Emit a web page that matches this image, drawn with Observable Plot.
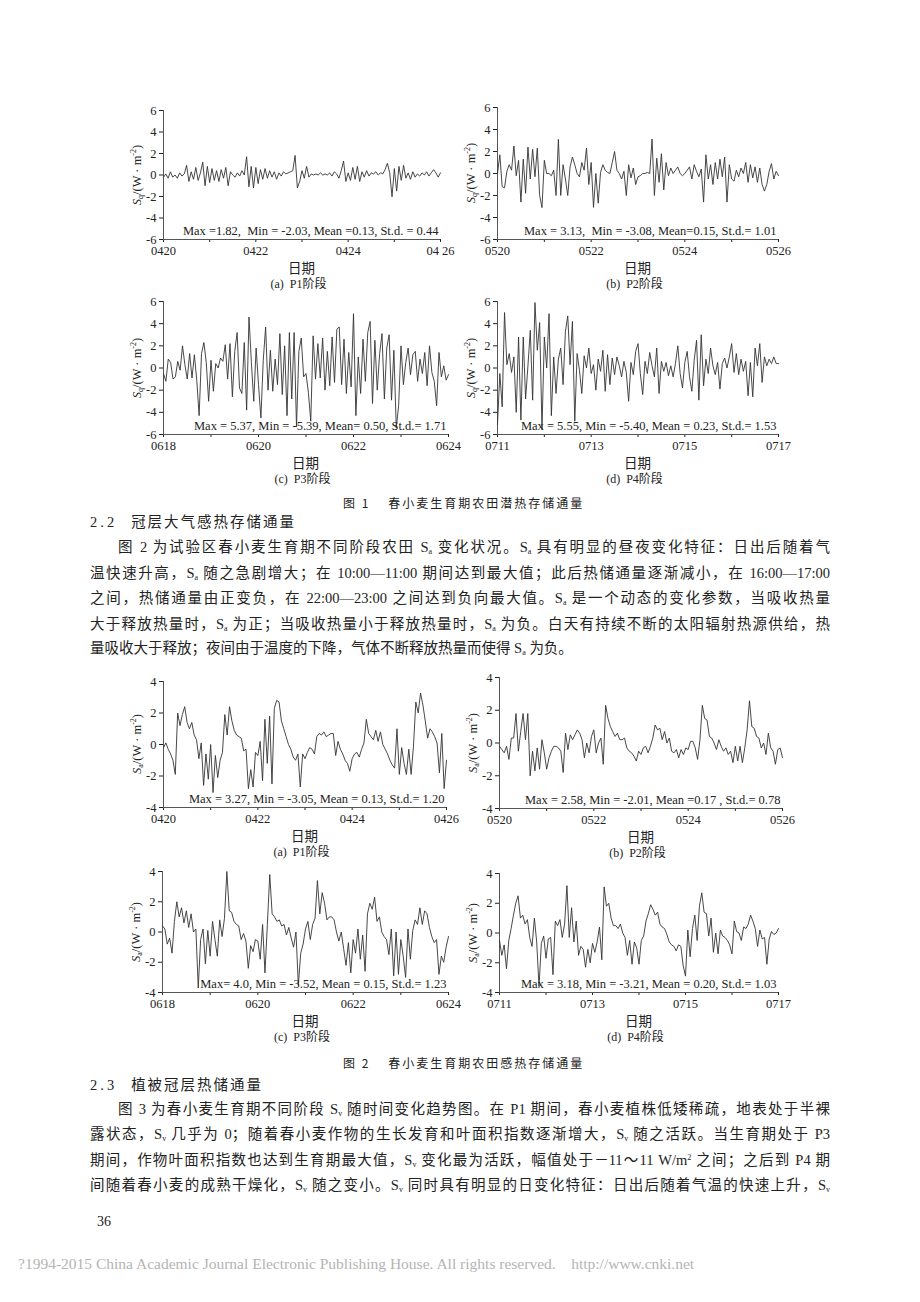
<!DOCTYPE html>
<html><head><meta charset="utf-8">
<script src="https://cdn.jsdelivr.net/npm/d3@7"></script>
<script src="https://cdn.jsdelivr.net/npm/@observablehq/plot@0.6"></script>
<style>
body{margin:0;background:#fff;}
#page{position:relative;width:920px;height:1302px;overflow:hidden;background:#fff;font-family:"Liberation Serif","Noto Sans CJK SC",serif;color:#222;}
.abs{position:absolute;white-space:nowrap;}
.tl{position:absolute;left:90px;width:740px;font-size:14.5px;line-height:20px;height:20px;text-align:justify;text-align-last:justify;font-family:"Liberation Serif","Noto Sans CJK SC",serif;color:#222;overflow:visible;}
.tl.last{text-align-last:left;}
.tl.ind{left:118px;width:712px;}
sub{font-size:8px;vertical-align:-2px;line-height:0;}
sup{font-size:8px;vertical-align:5px;line-height:0;}
.ylab{position:absolute;font-size:12.5px;font-family:"Liberation Serif",serif;white-space:nowrap;transform:translate(-50%,-50%) rotate(-90deg);color:#222;}
.xt{position:absolute;font-size:13.5px;font-family:"Noto Sans CJK SC",sans-serif;transform:translate(-50%,-50%);white-space:nowrap;color:#222;}
.sc{position:absolute;font-size:12px;font-family:"Liberation Serif","Noto Sans CJK SC",serif;transform:translate(-50%,-50%);white-space:pre;color:#222;}
.cap{position:absolute;font-size:12px;letter-spacing:2px;font-family:"Noto Sans CJK SC",sans-serif;white-space:nowrap;color:#222;}
.hd{position:absolute;font-size:14.5px;font-family:"Liberation Serif","Noto Sans CJK SC",serif;white-space:nowrap;color:#222;}
</style>
</head><body><div id="page"></div>
<script>
// ---------------- data ----------------
// Fig.1 latent heat storage flux Sq (W·m-2), 20 samples per day
const sqP1 = [
 -0.2,0.1,-0.3,0.3,-0.2,0.0,-0.3,0.2,-0.1,0.1,0.9,-0.6,0.3,-0.4,0.7,-0.5,0.2,1.2,-1.0,0.8,
 -0.7,0.6,-0.5,0.4,-0.6,0.5,-0.3,0.7,-1.0,0.3,0.0,-0.2,0.2,-0.1,0.4,0.0,1.7,-1.1,0.8,-1.2,
 0.7,-0.8,0.5,-0.4,0.6,-0.3,0.4,-0.2,0.3,-0.4,0.2,-0.1,0.3,0.1,0.2,0.3,0.4,1.82,-1.2,-0.6,
 0.4,-0.3,0.8,-0.2,0.1,0.0,0.1,0.0,0.2,0.0,0.1,0.0,0.2,-0.1,0.3,0.1,-0.3,0.4,1.3,-0.6,
 0.2,-0.5,0.7,-0.4,0.8,-0.6,0.3,-0.2,0.4,-0.1,0.2,0.1,0.3,0.0,0.2,0.1,0.5,1.1,0.2,-2.03,
 0.6,-1.5,0.8,-0.5,0.9,-0.3,0.2,-0.4,0.3,-0.2,0.1,-0.1,0.2,0.0,0.3,-0.1,0.2,0.5,0.2,-0.2,0.2];
const sqP2 = [
 0.0,1.7,-1.2,-1.3,0.2,0.8,0.3,2.5,-0.2,1.2,-2.6,1.3,-1.8,2.4,-0.5,2.2,-0.3,2.3,-2.0,-3.1,
 1.2,0.0,0.0,-0.2,0.3,-2.0,3.1,-2.0,0.8,-0.5,-2.0,0.6,1.5,0.8,0.0,-0.3,1.0,0.3,2.3,-1.0,
 1.0,-3.08,0.0,-2.7,0.1,0.8,0.3,0.1,0.0,1.0,2.0,0.3,0.0,-0.5,0.2,-2.0,0.8,-0.4,0.5,-1.0,
 -0.3,-0.2,0.0,0.0,0.1,0.0,3.13,-2.0,1.4,-0.8,1.8,-1.5,1.0,-0.2,0.5,0.0,0.3,0.6,0.0,-0.2,
 0.0,0.3,0.6,-0.5,0.8,0.2,-0.3,0.4,-2.6,1.7,-0.5,0.8,-1.0,1.0,-0.5,1.3,-0.3,1.5,-2.6,0.8,
 -0.5,-0.7,0.3,-0.3,0.5,0.0,1.0,-0.8,0.8,-0.4,0.6,-0.8,0.5,-1.0,-1.6,-1.0,0.2,0.9,-0.5,0.2,-0.2];
const sqP3 = [
 -0.5,-1.2,0.8,0.5,-1.0,-0.8,0.6,-0.2,2.0,0.3,-1.0,1.3,-0.9,1.2,-1.1,-4.3,1.3,2.3,0.5,-3.0,
 0.7,-2.1,0.4,0.0,0.9,0.6,2.1,-1.0,2.2,-2.6,1.5,3.2,-1.8,-2.3,2.3,-3.8,4.6,0.5,-3.0,1.8,
 -1.5,-4.5,0.7,3.7,-2.0,1.6,-2.1,0.8,-1.5,3.1,-2.4,2.0,-4.3,3.2,-2.8,3.2,-5.3,1.5,2.7,-0.8,
 -0.5,-2.2,-4.8,2.9,-1.0,2.2,-0.9,2.7,-2.0,1.5,-1.6,2.8,-1.3,3.5,3.7,-1.5,2.6,-2.3,1.4,-1.7,
 4.9,-4.3,1.0,-2.3,2.6,-1.2,3.2,4.2,-3.2,2.5,-2.0,1.3,3.1,-2.8,1.8,3.0,-2.9,1.6,-5.4,-3.4,
 2.0,-1.5,0.5,1.8,-0.6,1.2,1.5,-1.2,0.8,-0.5,1.4,-1.6,2.0,-0.4,-1.2,-3.4,1.4,-0.8,0.2,-1.1,-0.6];
const sqP4 = [
 -5.1,-0.5,-3.5,5.0,0.3,1.3,-0.4,1.0,-4.0,2.8,-4.7,2.8,-2.8,0.2,3.4,-2.9,5.9,1.6,4.1,-5.5,
 2.8,0.0,4.9,-4.3,1.0,-2.3,0.8,1.8,-1.5,3.3,4.7,0.3,4.2,-4.8,1.3,-0.2,-2.3,1.1,0.0,1.8,
 -0.5,0.3,-2.0,0.8,-0.3,1.6,-2.1,1.2,-1.5,0.9,-0.6,1.0,0.2,-0.8,0.6,-0.4,-3.0,0.5,-0.6,1.5,
 2.2,-0.5,-2.4,0.6,-0.5,1.4,0.2,-0.8,1.8,-2.3,0.6,-0.3,0.5,-0.7,0.2,-0.8,0.4,2.0,-0.5,-1.8,
 0.5,1.5,-0.8,-2.1,0.7,2.5,-2.9,3.0,-1.6,0.8,-0.5,1.8,0.2,-0.6,0.5,-1.9,0.4,0.9,0.0,1.0,
 2.2,-0.4,1.3,-0.6,0.8,-0.3,0.6,-2.5,0.5,-2.6,1.8,0.2,2.2,-1.3,1.0,0.2,0.8,0.4,1.0,0.4,0.4];
// Fig.2 sensible heat storage flux Sa (W·m-2)
const saP1 = [
 -0.2,0.1,-0.3,-0.6,-1.0,-1.9,2.0,1.2,1.9,2.4,1.4,1.0,1.4,0.6,0.3,-0.9,0.1,-2.6,-0.6,-2.2,
 0.0,-3.05,-0.7,-2.1,-1.0,-0.5,1.9,0.6,2.4,1.5,0.9,0.6,0.5,0.4,-0.4,-0.3,-2.8,-1.6,-2.7,-0.5,
 -0.7,0.2,-2.3,1.6,-1.2,1.8,-2.5,2.3,2.8,2.7,1.5,1.0,0.5,0.0,-0.3,-0.8,-1.0,-0.6,-2.7,-0.6,
 -0.9,-0.5,-0.2,-0.3,-0.6,0.5,0.7,0.6,0.8,0.5,0.6,0.7,0.7,-0.7,0.2,-0.3,-0.6,-1.0,-1.2,-1.7,
 -0.9,-0.6,-0.5,-0.8,-0.3,0.1,1.6,0.7,0.5,0.3,0.9,0.2,0.8,0.0,-0.3,-0.6,-1.0,-1.3,-1.5,1.0,
 -1.9,-0.2,-1.2,-1.9,-0.3,-1.9,-0.1,2.7,2.0,3.27,2.5,1.5,0.4,1.0,0.8,0.5,0.1,-1.8,0.7,-2.8,-1.0];
const saP2 = [
 -0.2,-0.4,-0.6,-0.2,-1.0,0.3,0.3,1.8,-0.5,0.7,1.8,0.2,1.8,-2.0,-0.5,-1.7,-0.3,-1.6,0.2,-0.6,
 -1.6,-0.9,-0.5,-0.2,-0.2,-0.3,-0.5,-1.8,0.6,-0.4,0.5,0.2,0.5,0.8,0.6,0.2,-0.9,0.0,-0.6,0.4,
 0.8,-0.6,0.0,0.3,-1.3,2.3,1.5,1.0,0.7,0.4,0.6,0.2,0.2,0.3,-0.3,-0.5,-0.6,-0.8,-1.1,-0.5,
 -0.7,-0.3,-0.2,-0.6,-0.2,0.3,1.1,0.8,0.9,0.2,0.7,0.0,0.3,-0.5,-0.6,-0.4,-0.9,-0.4,-0.7,-0.3,
 -0.4,0.1,0.1,-0.3,-1.0,0.2,2.3,1.5,1.4,0.4,0.3,0.0,-0.4,0.2,-0.2,-0.5,-0.3,-0.7,-0.5,-1.2,
 -0.2,-1.1,-0.2,-1.2,-0.3,0.8,2.58,1.0,0.9,0.4,0.3,-0.3,0.0,-0.7,0.6,-0.3,-0.5,-1.3,-0.4,-0.3,-0.9];
const saP3 = [
 0.4,0.2,-0.8,-0.4,-1.4,0.7,2.0,1.0,1.6,0.6,1.4,0.3,1.2,0.0,0.2,-3.7,-0.5,0.2,-2.1,0.1,
 -1.6,0.7,-0.5,-1.6,0.8,-0.3,0.9,4.0,1.4,1.3,0.7,0.5,0.4,-0.5,-0.1,-0.6,-2.4,-0.9,-1.3,-0.5,
 -0.6,-1.8,0.5,-2.7,0.5,3.8,1.2,1.0,0.7,0.8,0.4,0.5,-0.2,0.3,-0.4,-1.0,0.0,-3.52,-1.4,-0.8,
 0.2,0.7,-0.5,0.5,0.9,3.4,1.2,2.6,1.9,0.8,1.0,1.0,0.8,0.0,-0.6,0.0,-1.1,-2.2,-0.7,-2.7,
 -0.5,-1.4,0.2,-1.8,-0.2,-2.6,1.2,1.9,1.5,2.3,0.7,1.0,0.0,-0.3,-0.5,-1.5,0.2,-2.9,0.0,-2.8,
 -0.5,-1.6,-3.0,0.2,-1.8,0.1,0.8,0.5,1.6,0.5,1.4,1.2,0.3,-0.3,-0.7,-0.5,-2.8,-1.6,-2.0,-1.0,-0.3];
const saP4 = [
 -0.5,-1.5,-0.8,-2.4,-0.5,0.3,1.2,2.0,2.5,1.0,1.2,0.6,0.9,-0.3,-0.9,1.0,-0.6,-3.6,-0.7,-0.2,
 -1.7,-0.4,-0.3,-2.8,0.8,0.5,0.9,-0.3,0.6,3.18,-0.3,1.7,-0.6,0.8,-1.5,-0.9,-1.1,-2.3,-1.1,-2.0,
 -0.7,-1.3,-0.6,0.4,-1.8,3.1,1.8,2.0,1.0,0.5,0.5,0.3,0.6,0.0,-0.3,-1.5,-0.5,-2.1,-0.6,-1.0,
 -2.1,-0.5,-0.2,0.8,1.3,1.9,1.6,1.2,1.4,0.6,0.4,0.3,-0.1,-0.6,-0.8,-0.9,-1.2,-0.8,-0.9,-2.2,
 -2.9,0.2,-1.6,0.3,1.2,-0.5,1.8,2.7,1.4,1.3,-0.2,1.0,-1.3,0.0,-1.4,0.2,-0.2,-0.3,-0.5,-0.8,
 -1.4,0.8,0.1,0.0,-0.5,0.4,0.3,0.6,1.2,0.8,0.3,-0.9,0.2,-0.4,-0.3,-2.1,-0.4,0.1,-0.1,0.0,0.3];

const dateLabels = [
  ["0420","0422","0424","04 26"],
  ["0520","0522","0524","0526"],
  ["0618","0620","0622","0624"],
  ["0711","0713","0715","0717"]
];
const dateLabels2 = [
  ["0420","0422","0424","0426"],
  ["0520","0522","0524","0526"],
  ["0618","0620","0622","0624"],
  ["0711","0713","0715","0717"]
];
const fig1Ticks = [-6,-4,-2,0,2,4,6];
const fig2Ticks = [-4,-2,0,2,4];
const fig1Stats = [
  "Max =1.82,  Min = -2.03, Mean =0.13, St.d. = 0.44",
  "Max = 3.13,  Min = -3.08, Mean=0.15, St.d.= 1.01",
  "Max = 5.37, Min = -5.39, Mean= 0.50, St.d.= 1.71",
  "Max = 5.55, Min = -5.40, Mean = 0.23, St.d.= 1.53"
];
const fig2Stats = [
  "Max = 3.27, Min = -3.05, Mean = 0.13, St.d.= 1.20",
  "Max = 2.58, Min = -2.01, Mean =0.17 , St.d.= 0.78",
  "Max= 4.0, Min = -3.52, Mean = 0.15, St.d.= 1.23",
  "Max = 3.18, Min = -3.21, Mean = 0.20, St.d.= 1.03"
];
const panelNames = ["(a)  P1阶段","(b)  P2阶段","(c)  P3阶段","(d)  P4阶段"];
const xTitle = "日期";
const figCaptions = ["春小麦生育期农田潜热存储通量","春小麦生育期农田感热存储通量"];

// ---------------- layout ----------------
const page = document.getElementById("page");
function addDiv(cls, html, left, top, extra) {
  const d = document.createElement("div");
  d.className = cls; d.innerHTML = html;
  d.style.left = left + "px"; d.style.top = top + "px";
  if (extra) Object.assign(d.style, extra);
  page.appendChild(d);
  return d;
}

function drawChart(c) {
  const mL = 30, mR = 24, mT = 8, mB = 22;
  const data = c.values.map((v, i) => ({t: i * 6 / (c.values.length - 1), v}));
  const labs = {0: c.dates[0], 2: c.dates[1], 4: c.dates[2], 6: c.dates[3]};
  const yMin = c.yDomain[0];
  const svg = Plot.plot({
    width: (c.x1 - c.x0) + mL + mR,
    height: (c.yB - c.yT) + mT + mB,
    marginLeft: mL, marginRight: mR, marginTop: mT, marginBottom: mB,
    style: {background: "transparent", fontFamily: "Liberation Serif, serif", fontSize: "12.5px", color: "#222", overflow: "visible"},
    x: {domain: [0, 6], ticks: [0,1,2,3,4,5,6], tickFormat: d => labs[d] ?? "", tickSize: 3, tickPadding: 4, label: null},
    y: {domain: c.yDomain, ticks: c.yTicks, tickFormat: d => String(d), tickSize: 4, tickPadding: 3, label: null},
    marks: [
      Plot.ruleX([0], {stroke: "#555", strokeWidth: 1}),
      Plot.ruleY([yMin], {stroke: "#555", strokeWidth: 1}),
      Plot.line(data, {x: "t", y: "v", stroke: "#333", strokeWidth: 0.9}),
      Plot.text([c.stats], {text: d => d, frameAnchor: "bottom-right", textAnchor: "end", lineAnchor: "bottom", dx: -2, dy: -5, fontSize: 12.5, fill: "#222"})
    ]
  });
  svg.style.position = "absolute";
  svg.style.left = (c.x0 - mL) + "px";
  svg.style.top = (c.yT - mT) + "px";
  page.appendChild(svg);
  const cx = (c.x0 + c.x1) / 2;
  addDiv("ylab", `<i>S</i><sub>${c.sub}</sub>/(W · m<sup>-2</sup>)`, c.x0 - 26, (c.yT + c.yB) / 2);
  addDiv("xt", xTitle, cx, c.yB + 28);
  const sc = addDiv("sc", "", cx - 3, c.yB + 44);
  sc.textContent = c.name;
}

const geo1 = [
  {x0:163, x1:440, yT:110, yB:239},
  {x0:497, x1:778, yT:107, yB:239},
  {x0:163, x1:448, yT:301, yB:434},
  {x0:497, x1:778, yT:301, yB:434}
];
const geo2 = [
  {x0:163, x1:446, yT:681, yB:807},
  {x0:499, x1:782, yT:677, yB:808},
  {x0:162, x1:448, yT:871, yB:992},
  {x0:499, x1:778, yT:873, yB:992}
];
[sqP1, sqP2, sqP3, sqP4].forEach((vals, i) => drawChart({
  ...geo1[i], values: vals, dates: dateLabels[i], yDomain: [-6, 6], yTicks: fig1Ticks,
  stats: fig1Stats[i], sub: "q", name: panelNames[i]
}));
[saP1, saP2, saP3, saP4].forEach((vals, i) => drawChart({
  ...geo2[i], values: vals, dates: dateLabels2[i], yDomain: [-4, 4], yTicks: fig2Ticks,
  stats: fig2Stats[i], sub: "a", name: panelNames[i]
}));

// captions
addDiv("cap", `图 1<span style="margin-left:18px">${figCaptions[0]}</span>`, 343, 494);
addDiv("cap", `图 2<span style="margin-left:18px">${figCaptions[1]}</span>`, 343, 1054);

// section 2.2
const Sa = `S<sub>a</sub>`, Sv = `S<sub>v</sub>`;
addDiv("hd", `<span style="letter-spacing:3px">2.2</span><span style="margin-left:14px;letter-spacing:2px">冠层大气感热存储通量</span>`, 90, 510);
const para22 = [
  `图 2 为试验区春小麦生育期不同阶段农田 ${Sa} 变化状况。${Sa} 具有明显的昼夜变化特征：日出后随着气`,
  `温快速升高，${Sa} 随之急剧增大；在 10:00—11:00 期间达到最大值；此后热储通量逐渐减小，在 16:00—17:00`,
  `之间，热储通量由正变负，在 22:00—23:00 之间达到负向最大值。${Sa} 是一个动态的变化参数，当吸收热量`,
  `大于释放热量时，${Sa} 为正；当吸收热量小于释放热量时，${Sa} 为负。白天有持续不断的太阳辐射热源供给，热`,
  `量吸收大于释放；夜间由于温度的下降，气体不断释放热量而使得 ${Sa} 为负。`
];
const tops22 = [537, 563, 588, 614, 638];
para22.forEach((h, i) => {
  const cls = "tl" + (i === 0 ? " ind" : "") + (i === para22.length - 1 ? " last" : "");
  addDiv(cls, h, i === 0 ? 118 : 90, tops22[i]);
});

// section 2.3
addDiv("hd", `<span style="letter-spacing:3px">2.3</span><span style="margin-left:14px;letter-spacing:2px">植被冠层热储通量</span>`, 90, 1073);
const para23 = [
  `图 3 为春小麦生育期不同阶段 ${Sv} 随时间变化趋势图。在 P1 期间，春小麦植株低矮稀疏，地表处于半裸`,
  `露状态，${Sv} 几乎为 0；随着春小麦作物的生长发育和叶面积指数逐渐增大，${Sv} 随之活跃。当生育期处于 P3`,
  `期间，作物叶面积指数也达到生育期最大值，${Sv} 变化最为活跃，幅值处于－11～11 W/m<sup>2</sup> 之间；之后到 P4 期`,
  `间随着春小麦的成熟干燥化，${Sv} 随之变小。${Sv} 同时具有明显的日变化特征：日出后随着气温的快速上升，${Sv}`
];
const tops23 = [1099, 1124, 1150, 1175];
para23.forEach((h, i) => {
  addDiv("tl" + (i === 0 ? " ind" : ""), h, i === 0 ? 118 : 90, tops23[i]);
});

addDiv("hd", "36", 97, 1214, {fontSize: "14px"});
addDiv("abs", "?1994-2015 China Academic Journal Electronic Publishing House. All rights reserved.&nbsp;&nbsp;&nbsp;&nbsp;http://www.cnki.net", 18, 1255,
  {fontSize: "15.5px", color: "#b4b4b4", fontFamily: "Liberation Serif, serif"});
</script>
</body></html>
